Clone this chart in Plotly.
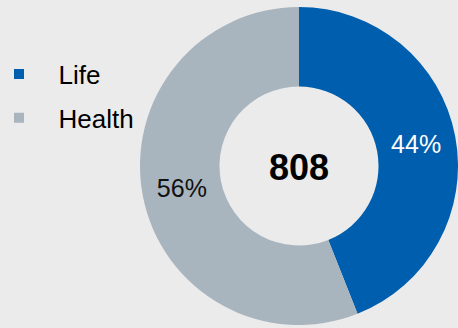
import plotly.graph_objects as go

# Portfolio split by line of business
labels = ["Life", "Health"]
shares = [44, 56]          # percent of total
total_count = 808
slice_colors = ["#005eae", "#a8b5bf"]
text_colors = ["#ffffff", "#111111"]

W, H = 458, 328
BG = "#ebebeb"
FONT = "Liberation Sans, Arial, sans-serif"

fig = go.Figure()

fig.add_trace(go.Pie(
    labels=labels,
    values=shares,
    hole=0.5,
    sort=False,
    direction="clockwise",
    rotation=0,
    marker=dict(colors=slice_colors, line=dict(width=0)),
    texttemplate="%{percent:.0%}",
    textposition="inside",
    insidetextorientation="horizontal",
    textfont=dict(family=FONT, size=25, color=text_colors),
    domain=dict(x=[140 / W, 1.0], y=[2 / H, 322 / H]),
    showlegend=False,
    hoverinfo="label+percent",
))

# Legend entries with square swatches
for i, (name, col) in enumerate(zip(labels, slice_colors)):
    fig.add_trace(go.Scatter(
        x=[None], y=[None],
        mode="markers",
        name=name,
        legendgroup=f"g{i}",
        marker=dict(symbol="square", size=10, color=col),
        showlegend=True,
        hoverinfo="skip",
    ))

fig.add_annotation(
    text=f"<b>{total_count}</b>",
    x=299 / W, y=1 - 167 / H,
    xref="paper", yref="paper",
    showarrow=False,
    font=dict(family=FONT, size=36, color="#000000"),
)

fig.update_layout(
    width=W, height=H,
    margin=dict(l=0, r=0, t=0, b=0, autoexpand=False),
    paper_bgcolor=BG,
    plot_bgcolor=BG,
    font=dict(family=FONT, size=26, color="#000000"),
    xaxis=dict(visible=False),
    yaxis=dict(visible=False),
    legend=dict(
        x=-20.5 / W, y=1 - 50.5 / H,
        xanchor="left", yanchor="top",
        bgcolor="rgba(0,0,0,0)",
        itemwidth=69,
        tracegroupgap=7,
        traceorder="grouped",
        font=dict(family=FONT, size=26, color="#000000"),
    ),
)

fig.write_html("out.html")
